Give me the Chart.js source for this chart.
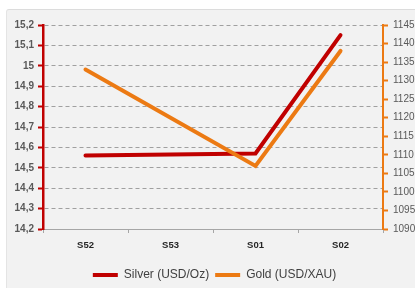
<!DOCTYPE html>
<html>
<head>
<meta charset="utf-8">
<script src="https://cdn.jsdelivr.net/npm/chart.js@4"></script>
<style>
  html, body { margin: 0; padding: 0; background: #ffffff; }
  #wrap { position: relative; width: 415px; height: 288px; overflow: hidden; }
  #panel { position: absolute; left: 6px; top: 9px; width: 420px; height: 290px;
           background: #f2f2f2; border-top: 1px solid #dcdcdc; border-left: 1px solid #e4e4e4; border-radius: 3px; }
  #c { position: absolute; left: 0; top: 0; }
</style>
</head>
<body>
<div id="wrap">
  <div id="panel"></div>
  <canvas id="c" width="415" height="288"></canvas>
</div>
<script>
const categories = ['S52', 'S53', 'S01', 'S02'];
const silverValues = [14.56, null, 14.57, 15.15];
const goldValues = [1133, null, 1107, 1138];
const silverLabel = 'Silver (USD/Oz)';
const goldLabel = 'Gold (USD/XAU)';
const leftTicks = { min: 14.2, max: 15.2, step: 0.1 };
const rightTicks = { min: 1090, max: 1145, step: 5 };

const SILVER = '#c00000';
const GOLD = '#ec7a13';
const FONT = "'Liberation Sans', Arial, sans-serif";

function commaFmt(v) {
  return String(Number(v.toFixed(1))).replace('.', ',');
}

const legendShift = {
  id: 'legendShift',
  afterLayout(chart) {
    const lg = chart.legend;
    if (!lg) return;
    lg.top += 3; lg.bottom += 3;
    lg.left += 7; lg.right += 7;
  }
};

new Chart(document.getElementById('c'), {
  type: 'line',
  data: {
    labels: categories,
    datasets: [
      { label: silverLabel, data: silverValues, yAxisID: 'yL', borderColor: SILVER, backgroundColor: SILVER,
        borderWidth: 4, pointRadius: 0, spanGaps: true, tension: 0, borderCapStyle: 'round', borderJoinStyle: 'miter', order: 1 },
      { label: goldLabel, data: goldValues, yAxisID: 'yR', borderColor: GOLD, backgroundColor: GOLD,
        borderWidth: 4, pointRadius: 0, spanGaps: true, tension: 0, borderCapStyle: 'round', borderJoinStyle: 'miter', order: 0 }
    ]
  },
  plugins: [legendShift],
  options: {
    responsive: false,
    animation: false,
    layout: { padding: { top: 25, left: 0, right: 0, bottom: 0 } },
    plugins: {
      tooltip: { enabled: false },
      legend: {
        position: 'bottom',
        labels: {
          font: { family: FONT, size: 12 },
          color: '#404040',
          boxWidth: 25,
          boxHeight: 4,
          padding: 6,
          sort: (a, b) => a.datasetIndex - b.datasetIndex,
          generateLabels: (chart) => Chart.defaults.plugins.legend.labels.generateLabels(chart)
            .map(l => Object.assign(l, { lineWidth: 0 }))
        }
      }
    },
    scales: {
      x: {
        offset: true,
        grid: { display: true, drawOnChartArea: false, offset: true, tickLength: 4, color: '#a6a6a6', lineWidth: 1 },
        border: { display: true, color: '#a6a6a6', width: 1 },
        ticks: { font: { family: FONT, size: 9.5, weight: 'bold' }, color: '#262626', padding: 7, maxRotation: 0 },
        afterFit: (s) => { s.height = 31; }
      },
      yL: {
        position: 'left',
        min: leftTicks.min, max: leftTicks.max,
        ticks: { stepSize: leftTicks.step, callback: (v) => commaFmt(v),
                 font: { family: FONT, size: 10, weight: 'bold' }, color: '#595959', padding: 4 },
        grid: { color: '#a0a0a0', lineWidth: 1, tickLength: 5, tickColor: SILVER, tickWidth: 2, tickBorderDash: [] },
        border: { display: true, color: SILVER, width: 2.5, dash: [4, 3] },
        afterFit: (s) => { s.width = 43; }
      },
      yR: {
        position: 'right',
        min: rightTicks.min, max: rightTicks.max,
        ticks: { stepSize: rightTicks.step, callback: (v) => String(v),
                 font: { family: FONT, size: 10 }, color: '#595959', padding: 5 },
        grid: { drawOnChartArea: false, tickLength: 5, tickColor: GOLD, tickWidth: 2, color: GOLD },
        border: { display: true, color: GOLD, width: 2 },
        afterFit: (s) => { s.width = 32; }
      }
    }
  }
});
</script>
</body>
</html>
